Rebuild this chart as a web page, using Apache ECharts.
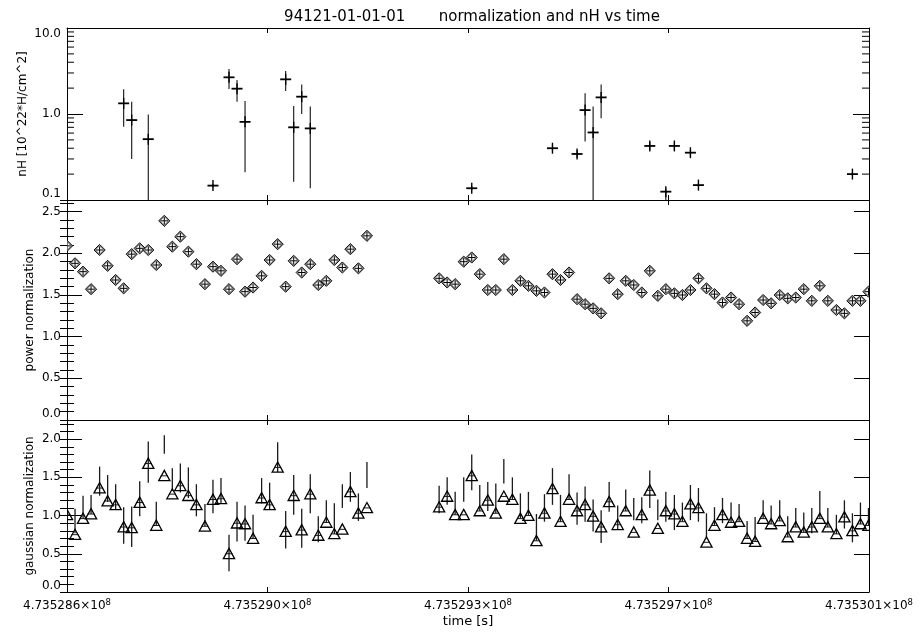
<!DOCTYPE html>
<html><head><meta charset="utf-8">
<script src="https://cdn.jsdelivr.net/npm/echarts@6/dist/echarts.min.js"></script>
<style>html,body{margin:0;padding:0;background:#fff}#c{width:920px;height:634px}</style>
</head><body><div id="c"></div>
<script>
// ---- axis settings ----
const X_MIN = 0, X_MAX = 1500, X_STEP = 375;   // seconds after 4.735286e8 s
const xTickLabels = ["4.735286", "4.735290", "4.735293", "4.735297", "4.735301"];
const xTickExponent = "8";

// ---- time of each bin (s, offset) ----
const time = [
  0,15,30,45,61,76,91,106,121,136,152,167,182,197,212,227,242,258,273,288,303,318,333,348,364,379,394,409,424,439,455,470,485,500,515,530,545,561,
  696,711,726,742,757,772,787,802,817,833,848,863,878,893,908,923,939,954,969,984,999,1014,1030,1045,1060,1075,1090,1105,1120,1136,1151,1166,1181,1196,1211,1226,1242,1257,1272,1287,1302,1317,1333,1348,1363,1378,1393,1408,1423,1439,1454,1469,1484,1499
];

// ---- power normalization ----
const powerNorm = [
  2.09,1.88,1.78,1.57,2.04,1.85,1.68,1.58,1.99,2.06,2.04,1.86,2.39,2.08,2.20,2.02,1.87,1.63,1.84,1.79,1.57,1.93,1.54,1.59,1.73,1.92,2.11,1.60,1.91,1.77,1.87,1.62,1.67,1.92,1.83,2.05,1.82,2.21,
  1.70,1.65,1.63,1.90,1.95,1.75,1.56,1.56,1.93,1.56,1.67,1.61,1.55,1.53,1.75,1.68,1.77,1.45,1.39,1.34,1.28,1.70,1.51,1.67,1.62,1.53,1.79,1.49,1.57,1.52,1.50,1.56,1.70,1.58,1.51,1.41,1.47,1.39,1.19,1.29,1.44,1.40,1.50,1.46,1.47,1.57,1.43,1.61,1.43,1.32,1.28,1.43,1.43,1.54
];

// ---- gaussian normalization with error bar ends ----
const gaussNorm = [
  1.01,0.75,0.96,1.02,1.36,1.19,1.14,0.85,0.84,1.17,1.68,0.87,1.52,1.28,1.39,1.26,1.14,0.86,1.21,1.22,0.50,0.90,0.89,0.70,1.23,1.14,1.63,0.79,1.26,0.81,1.28,0.74,0.91,0.76,0.82,1.31,1.03,1.10,
  1.11,1.25,1.01,1.01,1.52,1.06,1.20,1.03,1.25,1.21,0.96,1.00,0.67,1.03,1.35,0.92,1.21,1.06,1.14,0.99,0.85,1.18,0.88,1.06,0.78,1.01,1.33,0.83,1.06,1.02,0.92,1.15,1.10,0.65,0.87,1.01,0.91,0.92,0.70,0.66,0.96,0.89,0.93,0.72,0.85,0.78,0.85,0.96,0.85,0.76,0.98,0.80,0.89,0.87
];
const gaussLo = [
  0.77,0.77,0.96,1.02,1.26,1.18,1.08,0.63,0.59,0.99,1.43,0.87,1.81,1.32,1.30,1.23,0.99,0.86,1.03,1.16,0.27,0.66,0.67,0.70,1.16,1.08,1.57,0.57,1.01,0.58,1.03,0.65,0.91,0.76,1.10,1.18,0.93,1.36,
  1.03,1.14,1.01,1.18,1.33,1.06,1.06,1.03,1.42,1.21,0.96,1.00,0.67,0.92,1.14,0.92,1.21,0.88,0.92,0.79,0.64,1.05,0.81,1.06,0.94,0.90,1.10,0.94,0.92,0.81,0.92,0.94,0.92,0.72,0.87,0.90,0.91,0.92,0.70,0.66,0.96,0.89,0.93,0.72,0.85,0.78,0.77,0.96,0.85,0.76,0.83,0.65,0.89,0.87
];
const gaussHi = [
  1.09,1.09,1.26,1.27,1.64,1.53,1.41,1.11,1.12,1.45,1.97,1.18,2.05,1.62,1.68,1.63,1.41,1.15,1.47,1.49,0.75,1.18,1.13,1.01,1.49,1.43,1.96,1.06,1.53,1.09,1.54,0.99,1.20,1.16,1.41,1.57,1.29,1.70,
  1.39,1.50,1.31,1.50,1.80,1.40,1.44,1.42,1.74,1.50,1.29,1.31,1.02,1.28,1.62,1.27,1.54,1.30,1.38,1.21,1.07,1.44,1.13,1.34,1.23,1.24,1.59,1.21,1.31,1.27,1.17,1.40,1.36,1.03,1.11,1.23,1.17,1.15,0.93,0.98,1.20,1.13,1.20,0.99,1.10,1.04,1.10,1.32,1.10,1.01,1.20,1.03,1.17,1.10
];

// ---- nH (only bins where it was fitted) ----
const nhTime = [106,121,152,273,303,318,333,409,424,439,455,757,908,954,969,984,999,1090,1120,1136,1166,1181,1469];
const nhVal = [1.33,0.85,0.51,0.147,2.67,1.97,0.81,2.53,0.70,1.59,0.68,0.137,0.40,0.343,1.11,0.61,1.56,0.425,0.125,0.425,0.355,0.149,0.20];
const nhLo  = [0.71,0.30,0.05,0.14,1.95,1.39,0.21,1.85,0.163,1.00,0.137,0.13,0.36,0.31,0.48,0.05,0.89,0.38,0.10,0.38,0.32,0.14,0.19];
const nhHi  = [1.94,1.39,0.99,0.155,3.34,2.48,1.42,3.16,1.24,2.21,1.22,0.145,0.45,0.38,1.74,1.22,2.21,0.47,0.135,0.47,0.39,0.16,0.21];

// minor ticks of the log axis
const logMinorTicks = [0.2,0.3,0.4,0.5,0.6,0.7,0.8,0.9,2,3,4,5,6,7,8,9];

// ---- rendering ----
const FONT = 'DejaVu Sans';
const BLACK = '#000';
const chart = echarts.init(document.getElementById('c'), null, {renderer: 'canvas'});

function clampY(y, cs) { return Math.min(Math.max(y, cs.y), cs.y + cs.height); }

function renderNh(params, api) {
  const cs = params.coordSys;
  const x = api.value(0);
  const p = api.coord([x, api.value(1)]);
  const lo = clampY(api.coord([x, api.value(2)])[1], cs);
  const hi = clampY(api.coord([x, api.value(3)])[1], cs);
  return {type: 'group', children: [
    {type: 'line', shape: {x1: p[0], y1: hi, x2: p[0], y2: lo}, style: {stroke: '#111', lineWidth: 1.1}},
    {type: 'line', shape: {x1: p[0], y1: p[1] - 5.5, x2: p[0], y2: p[1] + 5.5}, style: {stroke: BLACK, lineWidth: 1.4}},
    {type: 'line', shape: {x1: p[0] - 5.5, y1: p[1], x2: p[0] + 5.5, y2: p[1]}, style: {stroke: BLACK, lineWidth: 1.8}}
  ]};
}

function renderLogMinor(params, api) {
  const cs = params.coordSys;
  const y = api.coord([api.value(0), api.value(1)])[1];
  return {type: 'group', children: [
    {type: 'line', shape: {x1: cs.x, y1: y, x2: cs.x + 7, y2: y}, style: {stroke: BLACK, lineWidth: 1}},
    {type: 'line', shape: {x1: cs.x + cs.width - 7, y1: y, x2: cs.x + cs.width, y2: y}, style: {stroke: BLACK, lineWidth: 1}}
  ]};
}

function renderDiamond(params, api) {
  const p = api.coord([api.value(0), api.value(1)]);
  const r = 5.6, ri = 3.7, x = p[0], y = p[1];
  return {type: 'group', children: [
    {type: 'polygon', shape: {points: [[x, y - r], [x + r, y], [x, y + r], [x - r, y]]}, style: {fill: '#8a8a8a', stroke: '#111', lineWidth: 1}},
    {type: 'polygon', shape: {points: [[x, y - ri], [x + ri, y], [x, y + ri], [x - ri, y]]}, style: {fill: '#fff'}},
    {type: 'line', shape: {x1: x - ri, y1: y, x2: x + ri, y2: y}, style: {stroke: BLACK, lineWidth: 1}},
    {type: 'line', shape: {x1: x, y1: y - ri, x2: x, y2: y + ri}, style: {stroke: BLACK, lineWidth: 1}}
  ]};
}

function renderTri(params, api) {
  const cs = params.coordSys;
  const xv = api.value(0);
  const p = api.coord([xv, api.value(1)]);
  const lo = clampY(api.coord([xv, api.value(2)])[1], cs);
  const hi = clampY(api.coord([xv, api.value(3)])[1], cs);
  const x = p[0], y = p[1];
  return {type: 'group', children: [
    {type: 'line', shape: {x1: x, y1: hi, x2: x, y2: lo}, style: {stroke: '#1a1a1a', lineWidth: 1.3}},
    {type: 'line', shape: {x1: x - 3.5, y1: y, x2: x + 3.5, y2: y}, style: {stroke: '#1a1a1a', lineWidth: 1}},
    {type: 'polygon', shape: {points: [[x - 5.6, y + 4.8], [x, y - 5.4], [x + 5.6, y + 4.8]]}, style: {fill: 'none', stroke: BLACK, lineWidth: 1.3}}
  ]};
}

const grids = [
  {left: 67, right: 51, top: 28, height: 172},
  {left: 67, right: 51, top: 200, height: 220},
  {left: 67, right: 51, top: 420, height: 172}
].map(g => Object.assign({outerBoundsMode: 'none', containLabel: false}, g));

const lineStyle = {color: BLACK, width: 1};
function xAx(gi, pos, labels) {
  const a = {
    gridIndex: gi, type: 'value', position: pos, min: X_MIN, max: X_MAX, interval: X_STEP,
    axisLine: {show: true, onZero: false, lineStyle},
    axisTick: {show: true, inside: true, length: 5, lineStyle},
    axisLabel: {show: false}, splitLine: {show: false}
  };
  if (labels) {
    a.axisLabel = {
      show: true, margin: 6,
      formatter: v => '{m|' + xTickLabels[Math.round((v - X_MIN) / X_STEP)] + '×10}{s|' + xTickExponent + '}',
      rich: {
        m: {fontFamily: FONT, fontSize: 12, color: BLACK},
        s: {fontFamily: FONT, fontSize: 8.5, color: BLACK, verticalAlign: 'bottom', padding: [0, 0, 6, 0]}
      }
    };
    a.name = 'time [s]';
    a.nameLocation = 'middle';
    a.nameGap = 23;
    a.nameMoveOverlap = false;
    a.nameTextStyle = {fontFamily: FONT, fontSize: 13, color: BLACK};
  }
  return a;
}
function yAx(gi, pos, cfg) {
  const a = Object.assign({
    gridIndex: gi, type: 'value', position: pos,
    axisLine: {show: true, onZero: false, lineStyle},
    axisTick: {show: true, inside: true, length: 15, lineStyle},
    axisLabel: {show: false}, splitLine: {show: false}, nameMoveOverlap: false
  }, cfg);
  return a;
}
const lab = (extra) => Object.assign({
  show: true, margin: 6, fontFamily: FONT, fontSize: 12, color: BLACK,
  formatter: v => Number(v).toFixed(1),
  verticalAlignMinLabel: 'bottom'
}, extra);
const nameStyle = {fontFamily: FONT, fontSize: 12, color: BLACK};
const minorAx = (gi, pos, max) => ({
  gridIndex: gi, type: 'value', position: pos, min: 0, max: max, interval: 0.1,
  axisLine: {show: false}, axisTick: {show: true, inside: true, length: 7, lineStyle},
  axisLabel: {show: false}, splitLine: {show: false}
});

const option = {
  animation: false,
  backgroundColor: '#fff',
  title: {
    text: '94121-01-01-01       normalization and nH vs time',
    left: 467, top: 5, textAlign: 'center',
    textStyle: {fontFamily: FONT, fontSize: 15, fontWeight: 'normal', color: BLACK}
  },
  grid: grids,
  xAxis: [
    xAx(0, 'bottom', false), xAx(0, 'top', false),
    xAx(1, 'bottom', false), xAx(1, 'top', false),
    xAx(2, 'bottom', true), xAx(2, 'top', false)
  ],
  yAxis: [
    yAx(0, 'left', {type: 'log', logBase: 10, min: 0.1, max: 10, axisTick: {show: true, inside: true, length: 16, lineStyle},
      axisLabel: lab({verticalAlignMaxLabel: 'top'}), minorTick: {show: false},
      name: 'nH [10^22*H/cm^2]', nameLocation: 'middle', nameGap: 38, nameTextStyle: nameStyle}),
    yAx(0, 'right', {type: 'log', logBase: 10, min: 0.1, max: 10, axisTick: {show: true, inside: true, length: 16, lineStyle}}),
    yAx(1, 'left', {min: 0, max: 2.64, interval: 0.5, axisLabel: lab({showMaxLabel: false}),
      name: 'power normalization', nameLocation: 'middle', nameGap: 31, nameTextStyle: nameStyle}),
    yAx(1, 'right', {min: 0, max: 2.64, interval: 0.5}),
    minorAx(1, 'left', 2.64), minorAx(1, 'right', 2.64),
    yAx(2, 'left', {min: 0, max: 2.25, interval: 0.5, axisLabel: lab({showMaxLabel: false}),
      name: 'gaussian normalization', nameLocation: 'middle', nameGap: 31, nameTextStyle: nameStyle}),
    yAx(2, 'right', {min: 0, max: 2.25, interval: 0.5}),
    minorAx(2, 'left', 2.25), minorAx(2, 'right', 2.25)
  ],
  series: [
    {type: 'custom', xAxisIndex: 0, yAxisIndex: 0, clip: true, silent: true,
      data: nhTime.map((t, k) => [t, nhVal[k], nhLo[k], nhHi[k]]), renderItem: renderNh},
    {type: 'custom', xAxisIndex: 0, yAxisIndex: 0, clip: false, silent: true,
      data: logMinorTicks.map(v => [X_MIN, v]), renderItem: renderLogMinor},
    {type: 'custom', xAxisIndex: 2, yAxisIndex: 2, clip: true, silent: true,
      data: time.map((t, k) => [t, powerNorm[k]]), renderItem: renderDiamond},
    {type: 'custom', xAxisIndex: 4, yAxisIndex: 6, clip: true, silent: true,
      data: time.map((t, k) => [t, gaussNorm[k], gaussLo[k], gaussHi[k]]), renderItem: renderTri}
  ]
};
chart.setOption(option);
</script>
</body></html>
